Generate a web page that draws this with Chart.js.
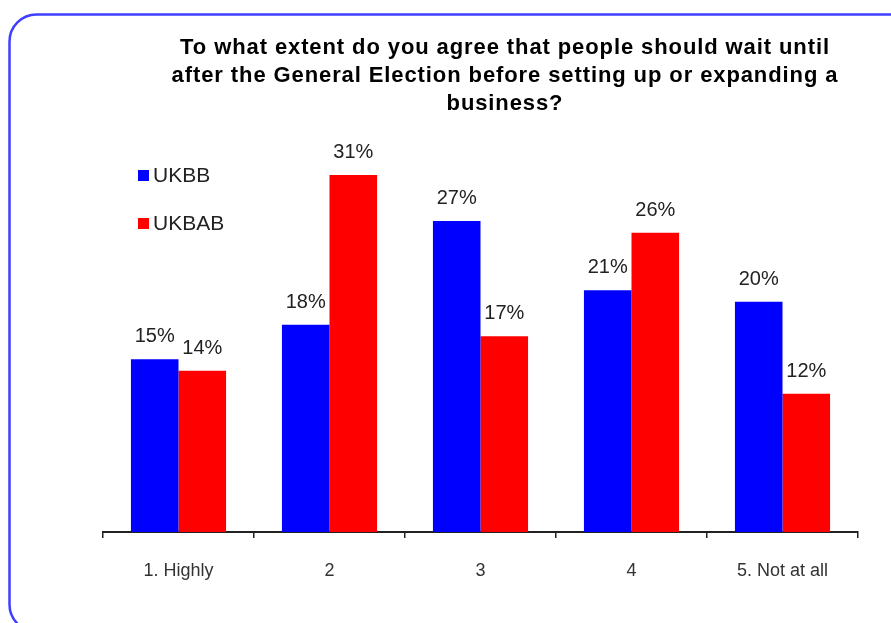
<!DOCTYPE html>
<html>
<head>
<meta charset="utf-8">
<script src="https://cdn.jsdelivr.net/npm/chart.js@4.4.1/dist/chart.umd.min.js"></script>
<style>
  html, body { margin: 0; padding: 0; background: #fff; }
  #wrap { position: relative; width: 891px; height: 623px; }
</style>
</head>
<body>
<div id="wrap"><canvas id="survey"></canvas></div>
<script>
// Survey answers, per cent of respondents
const CATEGORIES = ['1. Highly', '2', '3', '4', '5. Not at all'];
const UKBB = [15, 18, 27, 21, 20];
const UKBAB = [14, 31, 17, 26, 12];
const TITLE_LINES = [
    'To what extent do you agree that people should wait until',
    'after the General Election before setting up or expanding a',
    'business?'
];

const FONT = '"Liberation Sans", Arial, Helvetica, sans-serif';

// Rounded frame round the whole chart
const framePlugin = {
    id: 'frame',
    beforeDraw(chart) {
        const ctx = chart.ctx;
        ctx.save();
        ctx.strokeStyle = '#3f3fff';
        ctx.lineWidth = 2.5;
        ctx.beginPath();
        ctx.roundRect(9.5, 14.5, 920, 617, 27);
        ctx.stroke();
        ctx.restore();
    }
};

// Centred multi-line title
const titlePlugin = {
    id: 'titleLines',
    afterDraw(chart) {
        const ctx = chart.ctx;
        ctx.save();
        ctx.fillStyle = '#000';
        ctx.font = 'bold 22px ' + FONT;
        ctx.letterSpacing = '0.9px';
        ctx.textAlign = 'center';
        ctx.textBaseline = 'middle';
        TITLE_LINES.forEach((line, i) => ctx.fillText(line, 505, 48 + i * 28));
        ctx.restore();
    }
};

// Series key drawn inside the plot, top left
const keyPlugin = {
    id: 'seriesKey',
    afterDraw(chart) {
        const ctx = chart.ctx;
        ctx.save();
        ctx.font = '21px ' + FONT;
        ctx.textBaseline = 'middle';
        chart.data.datasets.forEach((ds, i) => {
            const y = 176 + i * 48;
            ctx.fillStyle = ds.backgroundColor;
            ctx.fillRect(138, y - 6, 11, 11);
            ctx.fillStyle = '#222';
            ctx.fillText(ds.label, 153, y);
        });
        ctx.restore();
    }
};

// Percentage above each bar
const valuePlugin = {
    id: 'barValues',
    afterDatasetsDraw(chart) {
        const ctx = chart.ctx;
        ctx.save();
        ctx.font = '20px ' + FONT;
        ctx.fillStyle = '#222';
        ctx.textAlign = 'center';
        ctx.textBaseline = 'alphabetic';
        chart.data.datasets.forEach((ds, di) => {
            chart.getDatasetMeta(di).data.forEach((bar, i) => {
                ctx.fillText(ds.data[i] + '%', bar.x, bar.y - 17);
            });
        });
        ctx.restore();
    }
};

new Chart(document.getElementById('survey'), {
    type: 'bar',
    data: {
        labels: CATEGORIES,
        datasets: [
            { label: 'UKBB', data: UKBB, backgroundColor: '#0000ff' },
            { label: 'UKBAB', data: UKBAB, backgroundColor: '#ff0000' }
        ]
    },
    options: {
        responsive: true,
        maintainAspectRatio: false,
        animation: false,
        events: [],
        layout: { padding: { left: 103, right: 33, top: 129, bottom: 0 } },
        datasets: { bar: { categoryPercentage: 0.63, barPercentage: 1.0 } },
        plugins: {
            legend: { display: false },
            title: { display: false },
            tooltip: { enabled: false }
        },
        scales: {
            x: {
                grid: {
                    display: true,
                    offset: true,
                    drawOnChartArea: false,
                    drawTicks: true,
                    tickLength: 6,
                    color: '#222',
                    lineWidth: 1.5
                },
                border: { display: true, color: '#222', width: 2 },
                ticks: {
                    color: '#333',
                    padding: 22,
                    font: { family: FONT, size: 18 }
                },
                afterFit(scale) { scale.height = 91; }
            },
            y: {
                display: false,
                min: 0,
                max: 35
            }
        }
    },
    plugins: [framePlugin, titlePlugin, keyPlugin, valuePlugin]
});
</script>
</body>
</html>
